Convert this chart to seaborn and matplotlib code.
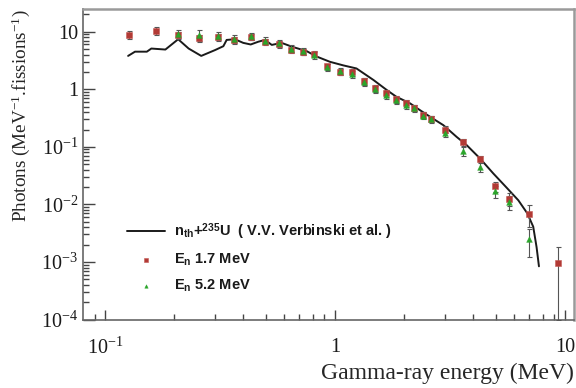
import numpy as np
import matplotlib
matplotlib.use("Agg")
import matplotlib.pyplot as plt
import seaborn as sns
from matplotlib.ticker import LogLocator, FuncFormatter, NullFormatter
from matplotlib.font_manager import FontProperties

# ---- data ----
E_red = [0.127, 0.166, 0.208, 0.255, 0.309, 0.364, 0.430, 0.496, 0.569, 0.644,
         0.728, 0.813, 0.92, 1.05, 1.19, 1.34, 1.49, 1.67, 1.84, 2.04,
         2.21, 2.42, 2.61, 3.01, 3.59, 4.27, 4.98, 5.72, 6.95, 9.33]
y_red = [8.8, 10.4, 8.8, 7.7, 8.0, 7.2, 8.2, 6.7, 6.0, 4.9,
         4.5, 4.1, 2.5, 2.0, 1.97, 1.39, 1.04, 0.85, 0.67, 0.57,
         0.48, 0.356, 0.31, 0.20, 0.122, 0.061, 0.0207, 0.0125, 0.0068, 0.00096]
err_red = [1.3, 1.5, 1.2, 1.1, 1.1, 1.0, 1.1, 0.9, 0.8, 0.6,
           0.6, 0.5, 0.3, 0.25, 0.25, 0.18, 0.13, 0.11, 0.09, 0.07,
           0.06, 0.045, 0.04, 0.026, 0.017, 0.009, 0.004, 0.003, 0.0028, 0.00086]

E_green = [0.208, 0.255, 0.309, 0.364, 0.430, 0.496, 0.569, 0.644, 0.728, 0.813,
           0.92, 1.05, 1.19, 1.34, 1.49, 1.67, 1.84, 2.04, 2.21, 2.42,
           2.61, 3.01, 3.59, 4.27, 4.98, 5.72, 6.95]
y_green = [9.1, 8.8, 8.4, 7.5, 8.4, 7.0, 6.4, 5.1, 4.6, 3.9,
           2.45, 2.07, 1.84, 1.35, 1.0, 0.79, 0.65, 0.53, 0.47, 0.35,
           0.30, 0.175, 0.085, 0.045, 0.017, 0.011, 0.0025]
err_green = [1.4, 1.8, 1.3, 1.1, 1.2, 1.0, 0.9, 0.7, 0.6, 0.5,
             0.35, 0.3, 0.26, 0.2, 0.15, 0.11, 0.09, 0.08, 0.07, 0.05,
             0.045, 0.028, 0.016, 0.009, 0.004, 0.003, 0.0013]

E_line = [0.126, 0.135, 0.152, 0.159, 0.183, 0.208, 0.231, 0.262, 0.301, 0.327,
          0.338, 0.367, 0.399, 0.430, 0.464, 0.496, 0.531, 0.586, 0.649, 0.753,
          0.833, 0.951, 1.087, 1.24, 1.47, 1.68, 1.85, 2.12, 2.34, 2.59,
          2.96, 3.38, 3.74, 4.27, 4.88, 5.58, 6.27, 6.86, 7.28, 7.53, 7.71]
y_line = [3.8, 4.5, 4.5, 5.1, 4.9, 7.4, 5.1, 3.8, 4.8, 5.6,
          7.2, 7.4, 6.4, 6.0, 6.7, 7.2, 5.9, 6.4, 5.5, 4.6,
          3.7, 3.0, 2.6, 2.3, 1.45, 0.97, 0.74, 0.57, 0.435, 0.333,
          0.238, 0.149, 0.107, 0.063, 0.0345, 0.0195, 0.0118, 0.0070, 0.0041, 0.0018, 0.00084]

label_line = r'$\mathbf{n}_{\mathbf{th}}$+$^{\mathbf{235}}$U  ( V.V. Verbinski et al. )'
label_red = r'$\mathbf{E}_{\mathbf{n}}$ 1.7 MeV'
label_green = r'$\mathbf{E}_{\mathbf{n}}$ 5.2 MeV'

# ---- style ----
sns.set_theme(style="ticks", rc={'xtick.direction': 'in', 'ytick.direction': 'in'})
plt.rcParams['font.family'] = ['Liberation Serif', 'DejaVu Serif']
plt.rcParams['mathtext.fontset'] = 'custom'
plt.rcParams['mathtext.rm'] = 'Liberation Serif'
plt.rcParams['mathtext.it'] = 'Liberation Serif:italic'
plt.rcParams['mathtext.bf'] = 'Liberation Sans:bold'
plt.rcParams['text.color'] = '#1a1a1a'
plt.rcParams['axes.unicode_minus'] = False

fig = plt.figure(figsize=(5.76, 3.88), dpi=100)
ax = fig.add_axes([0.1441, 0.1765, 0.8524, 0.7995])
ax.set_xscale('log')
ax.set_yscale('log')

sns.lineplot(x=E_line, y=y_line, sort=False, estimator=None, color='#1a1a1a',
             linewidth=1.4, ax=ax, label=label_line, zorder=2)
ax.errorbar(E_red, y_red, yerr=err_red, fmt='none', ecolor='#555555',
            elinewidth=0.8, capsize=1.8, capthick=0.8, zorder=3)
ax.errorbar(E_green, y_green, yerr=err_green, fmt='none', ecolor='#555555',
            elinewidth=0.8, capsize=1.8, capthick=0.8, zorder=3)
sns.scatterplot(x=E_red, y=y_red, marker='s', s=20, color='#b23a35',
                edgecolor='#c45a55', linewidth=0.4, ax=ax, label=label_red, zorder=4)
sns.scatterplot(x=E_green, y=y_green, marker='^', s=17, color='#2aa52a',
                edgecolor='#2aa52a', linewidth=0.3, ax=ax, label=label_green, zorder=5)

ax.set_xlim(0.0802, 10.95)
ax.set_ylim(1e-4, 24.5)

def fmt(v, pos):
    e = int(round(np.log10(v)))
    if e == 0:
        return '1'
    if e == 1:
        return '10'
    return r'$\mathrm{10^{%d}}$' % e

ax.xaxis.set_major_locator(LogLocator(base=10, numticks=20))
ax.xaxis.set_minor_locator(LogLocator(base=10, subs=np.arange(2, 10), numticks=20))
ax.yaxis.set_major_locator(LogLocator(base=10, numticks=20))
ax.yaxis.set_minor_locator(LogLocator(base=10, subs=np.arange(2, 10), numticks=20))
ax.xaxis.set_major_formatter(FuncFormatter(fmt))
ax.yaxis.set_major_formatter(FuncFormatter(fmt))
ax.xaxis.set_minor_formatter(NullFormatter())
ax.yaxis.set_minor_formatter(NullFormatter())

ax.tick_params(which='both', direction='in', top=False, right=False,
               bottom=True, left=True,
               color='#444444', width=1.0, labelcolor='#1a1a1a')
ax.tick_params(axis='x', which='major', length=7.5, pad=13, labelsize=14.5)
ax.tick_params(axis='x', which='minor', length=4.5)
ax.tick_params(axis='y', which='major', length=8.5, pad=3.5, labelsize=14.5)
ax.tick_params(axis='y', which='minor', length=4.5)

for s in ['top', 'right']:
    ax.spines[s].set_visible(True)
    ax.spines[s].set_color('#9a9a9a')
    ax.spines[s].set_linewidth(1.8)
for s in ['left', 'bottom']:
    ax.spines[s].set_color('#666666')
    ax.spines[s].set_linewidth(1.2)

ax.set_xlabel('Gamma-ray energy (MeV)', fontsize=17, loc='right')
ax.xaxis.set_label_coords(1.0, -0.14)
ax.set_ylabel(r'Photons (MeV$^{-1}$.fissions$^{-1}$)', fontsize=13.8, loc='top')
ax.yaxis.set_label_coords(-0.104, 1.0)

handles, labels = ax.get_legend_handles_labels()
ax.legend(handles, labels, loc='upper left', bbox_to_anchor=(0.0896, 0.3175),
          frameon=False, borderpad=0, borderaxespad=0, handlelength=2.6,
          handletextpad=0.65, labelspacing=0.68, markerscale=0.6,
          prop=FontProperties(family='Liberation Sans', weight='bold', size=10.5))

fig.savefig('out.png', dpi=100)
